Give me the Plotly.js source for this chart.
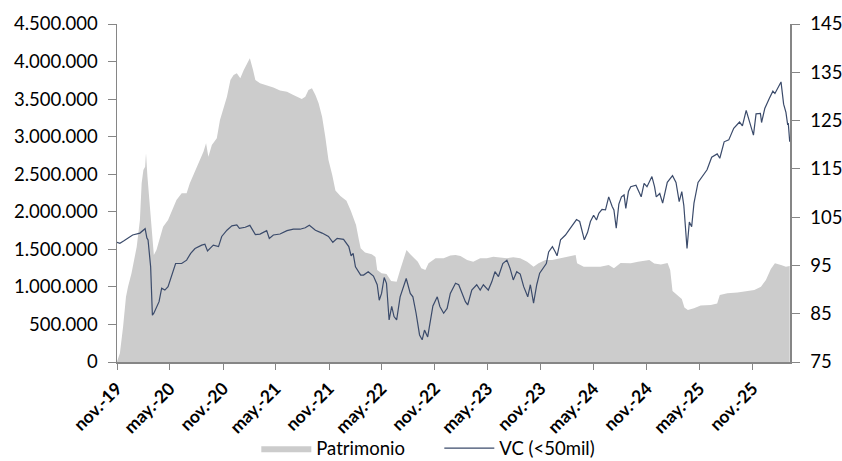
<!DOCTYPE html>
<html>
<head>
<meta charset="utf-8">
<script src="https://cdn.plot.ly/plotly-3.0.1.min.js"></script>
<style>html,body{margin:0;padding:0;background:#fff;}#chart{width:842px;height:461px;}</style>
</head>
<body>
<div id="chart"></div>
<script>
// Patrimonio (left axis)
const patDates = ["2019-11-01","2019-11-11","2019-11-22","2019-12-02","2019-12-09","2019-12-21","2020-01-08","2020-01-19","2020-01-25","2020-01-31","2020-02-06","2020-02-09","2020-02-14","2020-02-21","2020-03-01","2020-03-07","2020-03-16","2020-03-28","2020-04-08","2020-04-25","2020-05-07","2020-05-24","2020-06-11","2020-06-28","2020-07-09","2020-07-27","2020-08-13","2020-08-25","2020-09-03","2020-09-11","2020-09-23","2020-10-10","2020-10-21","2020-11-03","2020-11-14","2020-11-26","2020-12-07","2020-12-18","2020-12-30","2021-01-11","2021-01-22","2021-02-01","2021-02-12","2021-02-20","2021-03-08","2021-03-31","2021-04-23","2021-05-16","2021-06-09","2021-07-01","2021-07-30","2021-08-11","2021-08-22","2021-09-03","2021-09-15","2021-09-26","2021-10-08","2021-10-19","2021-10-30","2021-11-12","2021-11-23","2021-12-10","2021-12-31","2022-01-15","2022-02-02","2022-02-12","2022-02-18","2022-03-05","2022-03-28","2022-04-10","2022-04-16","2022-05-01","2022-05-18","2022-06-03","2022-06-22","2022-07-04","2022-07-18","2022-07-26","2022-08-08","2022-08-20","2022-09-03","2022-09-15","2022-09-29","2022-10-10","2022-11-03","2022-12-01","2022-12-24","2023-01-11","2023-01-28","2023-02-20","2023-03-13","2023-04-06","2023-04-29","2023-05-21","2023-06-14","2023-07-07","2023-07-29","2023-08-22","2023-09-15","2023-10-07","2023-10-24","2023-11-17","2023-12-10","2024-01-08","2024-02-01","2024-02-29","2024-03-05","2024-03-28","2024-04-20","2024-05-24","2024-06-22","2024-07-10","2024-08-02","2024-09-06","2024-10-01","2024-11-09","2024-11-26","2024-12-19","2025-01-11","2025-01-20","2025-01-28","2025-02-15","2025-03-01","2025-03-10","2025-03-22","2025-04-12","2025-05-05","2025-06-09","2025-07-01","2025-07-10","2025-08-05","2025-09-09","2025-10-13","2025-11-06","2025-11-29","2025-12-16","2026-01-02","2026-01-16","2026-02-06","2026-02-23","2026-03-08"];
const patrimonio = [4000,116000,470000,869000,1002000,1181000,1535000,1891000,2379000,2556000,2600000,2779000,2467000,2157000,1668000,1425000,1491000,1668000,1801000,1891000,2001000,2157000,2246000,2246000,2379000,2534000,2689000,2800000,2912000,2733000,2889000,2978000,3222000,3378000,3532000,3755000,3821000,3844000,3777000,3888000,3977000,4043000,3888000,3755000,3711000,3688000,3655000,3615000,3599000,3555000,3502000,3532000,3621000,3644000,3555000,3444000,3266000,3000000,2689000,2490000,2283000,2210000,2146000,2013000,1824000,1624000,1514000,1458000,1435000,1398000,1225000,1181000,1172000,1078000,1069000,1225000,1402000,1491000,1435000,1391000,1335000,1248000,1225000,1314000,1381000,1381000,1418000,1425000,1411000,1358000,1335000,1381000,1381000,1402000,1394000,1381000,1394000,1381000,1335000,1269000,1314000,1358000,1358000,1381000,1402000,1425000,1314000,1269000,1269000,1269000,1292000,1248000,1318000,1314000,1335000,1358000,1311000,1298000,1318000,1225000,945000,879000,839000,726000,692000,715000,752000,759000,779000,892000,915000,925000,945000,959000,1002000,1092000,1238000,1314000,1292000,1269000,1278000];

// VC (<50mil) (right axis)
const vcDates = ["2019-11-01","2019-11-11","2019-11-25","2019-12-08","2019-12-25","2020-01-19","2020-02-06","2020-02-12","2020-02-16","2020-02-25","2020-03-02","2020-03-07","2020-03-16","2020-03-25","2020-04-03","2020-04-14","2020-04-25","2020-05-07","2020-05-21","2020-06-11","2020-06-28","2020-07-12","2020-07-27","2020-08-19","2020-08-30","2020-09-08","2020-09-23","2020-09-28","2020-10-16","2020-10-27","2020-11-14","2020-12-01","2020-12-18","2020-12-27","2021-01-16","2021-02-01","2021-02-20","2021-03-08","2021-03-31","2021-04-09","2021-04-23","2021-05-16","2021-06-09","2021-07-01","2021-07-24","2021-08-11","2021-08-25","2021-09-15","2021-10-08","2021-10-30","2021-11-14","2021-11-29","2021-12-21","2022-01-08","2022-01-16","2022-01-23","2022-01-31","2022-02-18","2022-02-28","2022-03-16","2022-04-03","2022-04-16","2022-04-23","2022-05-01","2022-05-10","2022-05-18","2022-05-27","2022-06-05","2022-06-13","2022-06-22","2022-07-04","2022-07-12","2022-07-25","2022-08-08","2022-08-17","2022-08-28","2022-09-09","2022-09-18","2022-09-26","2022-10-07","2022-10-16","2022-10-25","2022-11-09","2022-11-18","2022-12-01","2022-12-13","2022-12-24","2023-01-11","2023-01-22","2023-02-03","2023-02-14","2023-02-22","2023-03-08","2023-03-25","2023-04-06","2023-04-17","2023-05-04","2023-05-16","2023-05-27","2023-06-08","2023-06-23","2023-07-07","2023-07-18","2023-07-29","2023-08-10","2023-08-22","2023-09-03","2023-09-17","2023-09-26","2023-10-07","2023-10-18","2023-10-28","2023-11-10","2023-11-20","2023-11-28","2023-12-11","2023-12-21","2023-12-27","2024-01-08","2024-01-25","2024-02-06","2024-02-18","2024-03-03","2024-03-14","2024-03-22","2024-03-30","2024-04-10","2024-04-20","2024-05-01","2024-05-11","2024-05-19","2024-05-30","2024-06-11","2024-06-22","2024-07-04","2024-07-10","2024-07-18","2024-07-27","2024-08-05","2024-08-14","2024-08-20","2024-08-29","2024-09-06","2024-09-24","2024-10-12","2024-10-22","2024-11-01","2024-11-18","2024-11-27","2024-12-03","2024-12-15","2024-12-25","2025-01-10","2025-01-28","2025-02-09","2025-02-20","2025-03-01","2025-03-08","2025-03-19","2025-03-27","2025-04-04","2025-04-12","2025-04-26","2025-05-10","2025-05-27","2025-06-12","2025-07-01","2025-07-10","2025-07-25","2025-08-10","2025-08-27","2025-09-16","2025-09-26","2025-10-09","2025-10-23","2025-11-03","2025-11-12","2025-11-27","2025-12-01","2025-12-12","2025-12-28","2026-01-09","2026-01-16","2026-01-25","2026-02-06","2026-02-15","2026-02-23","2026-03-01","2026-03-03","2026-03-08"];
const vc = [99.8,99.6,100.1,100.7,101.3,101.7,102.6,100.7,100.3,94.7,84.7,85.1,86.5,87.5,90.3,89.9,90.6,92.7,95.4,95.4,96.1,97.5,98.5,99.2,99.4,98.0,98.9,99.2,98.9,101.0,102.3,103.2,103.4,102.7,102.9,103.3,101.4,101.5,102.2,100.6,101.3,101.5,102.2,102.5,102.5,102.8,103.3,102.3,101.7,101.0,99.8,100.6,100.4,98.9,97.0,97.5,94.7,93.0,93.0,93.7,92.8,91.0,87.8,89.2,92.5,91.3,83.7,86.5,84.4,83.7,88.5,89.9,92.3,89.2,88.5,85.1,80.6,79.6,81.6,80.2,83.0,86.6,88.5,86.5,85.1,86.1,89.2,91.3,91.0,89.2,87.5,86.8,89.9,91.0,89.9,91.0,89.9,91.6,93.7,92.7,95.4,96.1,94.4,92.0,93.7,93.2,90.6,88.5,91.0,87.2,91.0,93.4,94.7,95.4,97.8,98.9,97.8,97.0,100.3,101.3,102.3,103.4,104.5,104.1,102.0,100.3,101.8,104.1,105.4,104.4,105.8,106.6,106.5,109.2,107.2,106.5,102.7,107.7,109.2,109.6,106.8,110.3,111.3,111.6,109.2,112.0,111.3,113.4,111.3,109.2,109.9,107.9,112.2,113.6,112.2,108.2,110.3,107.4,98.5,104.0,103.0,107.9,112.2,113.5,114.8,117.4,118.1,117.2,120.6,121.0,123.4,124.7,123.9,127.1,124.4,122.0,126.4,126.5,124.6,127.5,129.6,131.1,130.6,131.6,133.0,128.4,126.7,124.1,124.5,120.6];

// x-axis ticks
const tickDates = ["2019-11-01","2020-05-01","2020-11-01","2021-05-01","2021-11-01","2022-05-01","2022-11-01","2023-05-01","2023-11-01","2024-05-01","2024-11-01","2025-05-01","2025-11-01"];
const tickLabels = ["nov.-19","may.-20","nov.-20","may.-21","nov.-21","may.-22","nov.-22","may.-23","nov.-23","may.-24","nov.-24","may.-25","nov.-25"];

const axisGrey = '#868686';
const fontFam = 'Lato, "Open Sans", sans-serif';

const traces = [
  {
    type: 'scatter', mode: 'lines', name: 'Patrimonio',
    x: patDates, y: patrimonio, fill: 'tozeroy',
    fillcolor: '#cccccc', line: {width: 0, color: '#cccccc', shape: 'linear'},
    hoverinfo: 'skip'
  },
  {
    type: 'scatter', mode: 'lines', name: 'VC (<50mil)',
    x: vcDates, y: vc, yaxis: 'y2',
    line: {width: 1.2, color: '#3b4b6b'},
    hoverinfo: 'skip'
  }
];

const layout = {
  width: 842, height: 461,
  margin: {l: 117, r: 52, t: 24, b: 99, pad: 0, autoexpand: false},
  paper_bgcolor: '#ffffff', plot_bgcolor: '#ffffff',
  separators: ',.',
  font: {family: fontFam, size: 18, color: '#000000'},
  showlegend: true,
  legend: {
    orientation: 'h', x: 0.207, xanchor: 'left', y: -0.2, yanchor: 'top',
    font: {family: fontFam, size: 18.5, color: '#000'},
    itemwidth: 50, entrywidth: 118, traceorder: 'normal', bgcolor: 'rgba(0,0,0,0)',
    borderwidth: 0, tracegroupgap: 0
  },
  xaxis: {
    type: 'date',
    range: ['2019-11-01', '2026-03-09'],
    tickmode: 'array', tickvals: tickDates, ticktext: tickLabels,
    tickangle: -45, automargin: false,
    tickfont: {family: fontFam, size: 17.5, color: '#000', weight: 'bold'},
    ticks: 'outside', ticklen: 6, tickcolor: axisGrey, tickwidth: 1,
    ticklabelstandoff: 2,
    showline: true, linecolor: axisGrey, linewidth: 1.5,
    showgrid: false, zeroline: false, fixedrange: true
  },
  yaxis: {
    range: [0, 4500000], dtick: 500000, tick0: 0,
    tickformat: ',d', automargin: false,
    tickfont: {family: fontFam, size: 18.5, color: '#000'},
    ticks: 'outside', ticklen: 8, tickcolor: axisGrey, tickwidth: 1,
    ticklabelstandoff: 6,
    showline: true, linecolor: axisGrey, linewidth: 1.5,
    showgrid: false, zeroline: false, fixedrange: true
  },
  yaxis2: {
    overlaying: 'y', side: 'right',
    range: [75, 145], dtick: 10, tick0: 75, automargin: false,
    tickfont: {family: fontFam, size: 18.5, color: '#000'},
    ticks: 'outside', ticklen: 8, tickcolor: axisGrey, tickwidth: 1,
    ticklabelstandoff: 7,
    showline: true, linecolor: axisGrey, linewidth: 1.5,
    showgrid: false, zeroline: false, fixedrange: true
  }
};

Plotly.newPlot('chart', traces, layout, {staticPlot: true, displayModeBar: false});
</script>
</body>
</html>
